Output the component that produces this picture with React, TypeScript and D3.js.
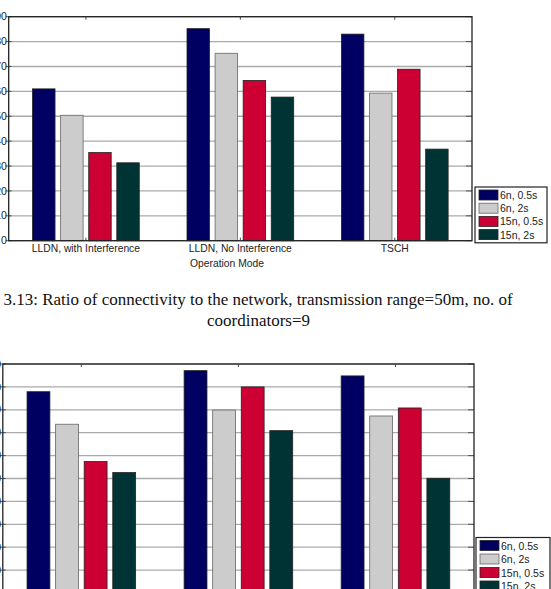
import React from "react";
import * as d3 from "d3";

const categories = ["LLDN, with Interference", "LLDN, No Interference", "TSCH"];
const seriesNames = ["6n, 0.5s", "6n, 2s", "15n, 0.5s", "15n, 2s"];
const seriesColors = ["#000062", "#cccccc", "#cc0033", "#003333"];

// Chart 1 (fig 3.13)
const c1_6n05 = [61, 85.2, 83];
const c1_6n2 = [50.4, 75.3, 59.3];
const c1_15n05 = [35.4, 64.4, 68.9];
const c1_15n2 = [31.3, 57.7, 36.8];
const c1Ticks = [0, 10, 20, 30, 40, 50, 60, 70, 80, 90];

// Chart 2 (next figure, cropped)
const c2_6n05 = [87.9, 97.1, 94.8];
const c2_6n2 = [73.7, 79.9, 77.3];
const c2_15n05 = [57.4, 90.0, 80.8];
const c2_15n2 = [52.6, 70.9, 50.1];
const c2Ticks = [0, 10, 20, 30, 40, 50, 60, 70, 80, 90, 100];

const caption1 = "3.13: Ratio of connectivity to the network, transmission range=50m, no. of";
const caption2 = "coordinators=9";
const xAxisTitle = "Operation Mode";

const SANS = "'Liberation Sans', Arial, sans-serif";
const SERIF = "'Liberation Serif', 'Times New Roman', serif";

type ChartProps = {
  values: number[][];
  ticks: number[];
  left: number;
  right: number;
  top: number;
  bottom: number;
  groupWidth: number;
  labelX: number;
  showCatLabels: boolean;
  legendX: number;
  legendY: number;
  legendW: number;
  legendRow: number;
};

function BarChart(p: ChartProps) {
  const x0 = d3.scaleBand<string>().domain(categories).range([p.left, p.right]).padding(0);
  const x1 = d3
    .scaleBand<string>()
    .domain(seriesNames)
    .range([-p.groupWidth / 2, p.groupWidth / 2])
    .paddingInner(0.2);
  const y = d3
    .scaleLinear()
    .domain([0, p.ticks[p.ticks.length - 1]])
    .range([p.bottom, p.top]);

  return (
    <g>
      {/* gridlines */}
      {p.ticks.map((t) => (
        <line key={"g" + t} x1={p.left} x2={p.right} y1={y(t)} y2={y(t)} stroke="#aaaaaa" strokeWidth={1.3} />
      ))}
      {/* right-side inward ticks */}
      {p.ticks.map((t) => (
        <line key={"rt" + t} x1={p.right - 6} x2={p.right} y1={y(t)} y2={y(t)} stroke="#555" strokeWidth={1} />
      ))}
      {p.ticks.map((t) => (
        <line key={"lt" + t} x1={p.left - 3} x2={p.left + 3} y1={y(t)} y2={y(t)} stroke="#555" strokeWidth={1} />
      ))}
      {/* tick labels */}
      {p.ticks.map((t) => (
        <text
          key={"tl" + t}
          x={p.labelX}
          y={y(t)}
          dy="0.35em"
          textAnchor="end"
          fontFamily={SANS}
          fontSize={10.5}
          fill="#222"
        >
          {t}
        </text>
      ))}
      {/* bars */}
      {categories.map((c, ci) =>
        seriesNames.map((s, si) => {
          const v = p.values[si][ci];
          const bx = (x0(c) as number) + x0.bandwidth() / 2 + (x1(s) as number);
          return (
            <rect
              key={c + s}
              x={bx}
              y={y(v)}
              width={x1.bandwidth()}
              height={y(0) - y(v)}
              fill={seriesColors[si]}
              stroke={si === 1 ? "#666" : "#222"}
              strokeWidth={0.8}
            />
          );
        })
      )}
      {/* frame */}
      <rect
        x={p.left}
        y={p.top}
        width={p.right - p.left}
        height={p.bottom - p.top}
        fill="none"
        stroke="#222"
        strokeWidth={1.3}
      />
      {/* category ticks top/bottom */}
      {categories.map((c) => {
        const cx = (x0(c) as number) + x0.bandwidth() / 2;
        return (
          <g key={"ct" + c}>
            <line x1={cx} x2={cx} y1={p.top} y2={p.top + 3} stroke="#444" strokeWidth={1} />
            <line x1={cx} x2={cx} y1={p.bottom} y2={p.bottom - 3} stroke="#444" strokeWidth={1} />
          </g>
        );
      })}
      {p.showCatLabels &&
        categories.map((c) => {
          const cx = (x0(c) as number) + x0.bandwidth() / 2;
          return (
            <text
              key={"cl" + c}
              x={cx}
              y={p.bottom + 11.6}
              textAnchor="middle"
              fontFamily={SANS}
              fontSize={10.3}
              fill="#222"
            >
              {c}
            </text>
          );
        })}
      {/* legend */}
      <rect
        x={p.legendX}
        y={p.legendY}
        width={p.legendW}
        height={p.legendRow * 4 + 3}
        fill="#fff"
        stroke="#222"
        strokeWidth={1.2}
      />
      {seriesNames.map((s, si) => {
        const ry = p.legendY + 3 + si * p.legendRow;
        return (
          <g key={"lg" + s}>
            <rect
              x={p.legendX + 4}
              y={ry}
              width={19}
              height={10}
              fill={seriesColors[si]}
              stroke={si === 1 ? "#666" : "#222"}
              strokeWidth={0.8}
            />
            <text x={p.legendX + 25} y={ry + 9} fontFamily={SANS} fontSize={10.5} fill="#222">
              {s}
            </text>
          </g>
        );
      })}
    </g>
  );
}

export default function App() {
  return (
    <svg
      width={551}
      height={589}
      style={{ position: "absolute", left: 0, top: 0, background: "#fff" }}
    >
      <rect x={0} y={0} width={551} height={589} fill="#fff" />
      <BarChart
        values={[c1_6n05, c1_6n2, c1_15n05, c1_15n2]}
        ticks={c1Ticks}
        left={8.7}
        right={472}
        top={16.7}
        bottom={240.7}
        groupWidth={106.7}
        labelX={6.8}
        showCatLabels={true}
        legendX={475}
        legendY={187}
        legendW={72}
        legendRow={13.2}
      />
      <text x={227} y={266.5} textAnchor="middle" fontFamily={SANS} fontSize={10.3} fill="#222">
        {xAxisTitle}
      </text>
      <text x={258} y={305} textAnchor="middle" fontFamily={SERIF} fontSize={17} fill="#111">
        {caption1}
      </text>
      <text x={258.5} y={325.5} textAnchor="middle" fontFamily={SERIF} fontSize={17} fill="#111">
        {caption2}
      </text>
      <BarChart
        values={[c2_6n05, c2_6n2, c2_15n05, c2_15n2]}
        ticks={c2Ticks}
        left={2.8}
        right={474}
        top={364}
        bottom={593}
        groupWidth={108.6}
        labelX={1.2}
        showCatLabels={false}
        legendX={476}
        legendY={537.5}
        legendW={74}
        legendRow={13.5}
      />
    </svg>
  );
}
